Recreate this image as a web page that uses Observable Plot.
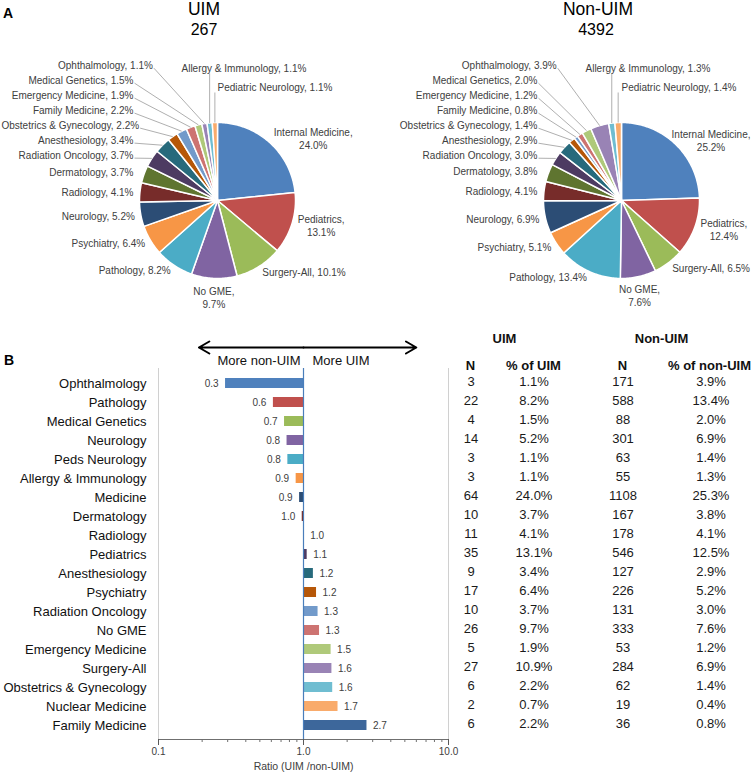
<!DOCTYPE html>
<html>
<head>
<meta charset="utf-8">
<script src="https://cdn.jsdelivr.net/npm/d3@7"></script>
<script src="https://cdn.jsdelivr.net/npm/@observablehq/plot@0.6"></script>
<style>
  body { margin: 0; background: #fff; font-family: 'Liberation Sans', Arial, sans-serif; }
  #root { position: relative; width: 752px; height: 772px; overflow: hidden; background: #fff; }
  .t { position: absolute; line-height: 1; white-space: nowrap; color: #000; }
  svg { overflow: visible; }
</style>
</head>
<body>
<div id="root"></div>
<script>
// ---------- DATA ----------
const pieNames = ["Internal Medicine","Pediatrics","Surgery-All","No GME","Pathology","Psychiatry","Neurology","Radiology","Dermatology","Radiation Oncology","Anesthesiology","Obstetrics & Gynecology","Family Medicine","Emergency Medicine","Medical Genetics","Ophthalmology","Allergy & Immunology","Pediatric Neurology"];
const uimPie = [24.0,13.1,10.1,9.7,8.2,6.4,5.2,4.1,3.7,3.7,3.4,2.2,2.2,1.9,1.5,1.1,1.1,1.1];
const nonPie = [25.2,12.4,6.5,7.6,13.4,5.1,6.9,4.1,3.8,3.0,2.9,1.4,0.8,1.2,2.0,3.9,1.3,1.4];
const pieColors = ["#4F81BD","#C0504D","#9BBB59","#8064A2","#4BACC6","#F79646","#2C4D75","#772C2A","#5F7530","#4D3B62","#276A7C","#B65708","#729ACA","#CD7371","#AFC97A","#9983B5","#6FBDD1","#F9AB6B"];
const wrapNames = ["Internal Medicine","Pediatrics","No GME"];

const uimTitle = "UIM", uimTotal = "267";
const nonTitle = "Non-UIM", nonTotal = "4392";

const barNames = ["Ophthalmology","Pathology","Medical Genetics","Neurology","Peds Neurology","Allergy & Immunology","Medicine","Dermatology","Radiology","Pediatrics","Anesthesiology","Psychiatry","Radiation Oncology","No GME","Emergency Medicine","Surgery-All","Obstetrics & Gynecology","Nuclear Medicine","Family Medicine"];
const ratios = [0.29,0.62,0.74,0.77,0.78,0.89,0.94,0.98,1.01,1.06,1.17,1.23,1.26,1.29,1.55,1.57,1.59,1.73,2.74];
const ratioLabels = ["0.3","0.6","0.7","0.8","0.8","0.9","0.9","1.0","1.0","1.1","1.2","1.2","1.3","1.3","1.5","1.6","1.6","1.7","2.7"];
const barColors = ["#4F81BD","#C0504D","#9BBB59","#8064A2","#4BACC6","#F79646","#2C4D75","#772C2A","#5F7530","#4D3B62","#276A7C","#B65708","#729ACA","#CD7371","#AFC97A","#9983B5","#6FBDD1","#F9AB6B","#3D679B"];
const uimN = [3,22,4,14,3,3,64,10,11,35,9,17,10,26,5,27,6,2,6];
const uimPct = ["1.1%","8.2%","1.5%","5.2%","1.1%","1.1%","24.0%","3.7%","4.1%","13.1%","3.4%","6.4%","3.7%","9.7%","1.9%","10.9%","2.2%","0.7%","2.2%"];
const nonN = [171,588,88,301,63,55,1108,167,178,546,127,226,131,333,53,284,62,19,36];
const nonPct = ["3.9%","13.4%","2.0%","6.9%","1.4%","1.3%","25.3%","3.8%","4.1%","12.5%","2.9%","5.2%","3.0%","7.6%","1.2%","6.9%","1.4%","0.4%","0.8%"];
const xTicks = [0.1, 1, 10];
const arrowEnds = [0.19, 6.0];
const axisTitle = "Ratio (UIM /non-UIM)";

// ---------- HELPERS ----------
const FONT = "'Liberation Sans', Arial, sans-serif";
const root = document.getElementById("root");
function place(el, left, top) {
  el.style.position = "absolute";
  el.style.left = left + "px";
  el.style.top = top + "px";
  root.appendChild(el);
}
function txt(s, left, top, size, weight, width, align) {
  const d = document.createElement("div");
  d.className = "t";
  d.textContent = s;
  d.style.fontSize = size + "px";
  d.style.fontWeight = weight || "normal";
  if (width) { d.style.width = width + "px"; d.style.textAlign = align || "center"; }
  place(d, left, top);
}
const ctx = document.createElement("canvas").getContext("2d");
ctx.font = "10px 'Liberation Sans', Arial, sans-serif";
const measure = s => ctx.measureText(s).width;

// ---------- PIE ----------
function piePlot(values, cx, cy, W, H) {
  const R = 78;
  const polar = (r, a) => [r * Math.sin(a), -r * Math.cos(a)];
  const arcs = d3.pie().sort(null).value(d => d)(values);
  const pts = [], labels = [], leaders = [];
  arcs.forEach((a, i) => {
    const name = pieNames[i], color = pieColors[i];
    const n = Math.max(2, Math.ceil((a.endAngle - a.startAngle) / (Math.PI / 180)));
    pts.push({name, color, x: 0, y: 0});
    for (let k = 0; k <= n; k++) {
      const ang = a.startAngle + (a.endAngle - a.startAngle) * k / n;
      const [x, y] = polar(R, ang);
      pts.push({name, color, x, y});
    }
    pts.push({name, color, x: 0, y: 0});
  });
  const items = arcs.map((a, i) => {
    const mid = (a.startAngle + a.endAngle) / 2;
    const v = values[i].toFixed(1) + "%";
    const text = wrapNames.includes(pieNames[i]) ? `${pieNames[i]},\n${v}` : `${pieNames[i]}, ${v}`;
    const lines = text.split("\n");
    return {mid, deg: mid * 180 / Math.PI, text, w: Math.max(...lines.map(measure)), h: lines.length * 13};
  });
  const clampX = (x, w) => Math.max(-cx + 1 + w / 2, Math.min(W - cx - 2 - w / 2, x));
  let prevY = Infinity;
  const tops = [];
  items.forEach(it => {
    const [px, py] = polar(R + 6, it.mid);
    const s = Math.sin(it.mid), c = Math.cos(it.mid);
    if (it.deg < 270) {
      const x = s > 0.3 ? px + it.w / 2 : s < -0.3 ? px - it.w / 2 : px;
      const y = Math.abs(s) >= 0.3 ? py : (c < 0 ? py + it.h / 2 : py - it.h / 2);
      labels.push({x: clampX(x, it.w), y, text: it.text});
    } else if (it.deg < 352) {
      const y = Math.min(py, prevY - 15);
      prevY = y;
      const xr = -Math.min(R + 6, Math.sqrt(Math.max(0, 150 * 150 - y * y)));
      const x = clampX(xr - it.w / 2, it.w);
      labels.push({x, y, text: it.text});
      const xe = x + it.w / 2;
      if (Math.hypot(xe - px, y - py) > 6) {
        const [rx, ry] = polar(R, it.mid);
        leaders.push({x1: xe + 1, y1: y + 3, x2: rx, y2: ry});
      }
    } else {
      tops.push(it);
    }
  });
  tops.reverse().forEach((it, k) => {
    const y = -(R + 36 + 19 * k);
    const xl = -36 * k;
    labels.push({x: clampX(xl + it.w / 2, it.w), y, text: it.text});
    const [rx, ry] = polar(R, it.mid);
    leaders.push({x1: rx, y1: y + 6, x2: rx, y2: ry});
  });
  return Plot.plot({
    width: W, height: H, margin: 0,
    x: {axis: null, domain: [-cx, W - cx], range: [0, W]},
    y: {axis: null, domain: [-cy, H - cy], range: [0, H]},
    color: {type: "identity"},
    style: {fontFamily: FONT, background: "transparent", overflow: "visible"},
    marks: [
      Plot.line(pts, {x: "x", y: "y", z: "name", fill: "color", stroke: "white", strokeWidth: 1.5, strokeLinejoin: "round"}),
      Plot.link(leaders, {x1: "x1", y1: "y1", x2: "x2", y2: "y2", stroke: "#a6a6a6", strokeWidth: 0.9}),
      Plot.text(labels, {x: "x", y: "y", text: "text", textAnchor: "middle", fontSize: 10, lineHeight: 1.3, fill: "#404040"})
    ]
  });
}

place(piePlot(uimPie, 217, 160, 376, 280), 0, 40);
place(piePlot(nonPie, 245, 160, 376, 280), 376, 40);

// ---------- BAR CHART ----------
const barRows = barNames.map((name, i) => ({name, ratio: ratios[i], label: ratioLabels[i], color: barColors[i]}));
const minorTicks = d3.scaleLog().domain([0.1, 10]).ticks();
const first = barNames[0];
const yScale = {type: "band", domain: barNames, padding: 0.5, range: [43.2, 423.8]};

const barPlot = Plot.plot({
  width: 452, height: 452,
  marginLeft: 158, marginRight: 4, marginTop: 48, marginBottom: 33,
  style: {fontFamily: FONT, background: "transparent", overflow: "visible"},
  x: {type: "log", domain: [0.1, 10]},
  y: yScale,
  color: {type: "identity"},
  marks: [
    Plot.ruleX([0.1, 10], {stroke: "#d0d0d0"}),
    Plot.frame({anchor: "bottom", stroke: "#6f6f6f"}),
    Plot.axisX({ticks: minorTicks, tickSize: 3, tickFormat: () => "", label: null, stroke: "#6f6f6f"}),
    Plot.axisX({ticks: xTicks, tickSize: 6, tickPadding: 2, tickFormat: d => d.toFixed(1), fontSize: 10, fill: "#404040", stroke: "#595959", label: null}),
    Plot.axisY({tickSize: 0, tickPadding: 12, fontSize: 13, fill: "#111", label: null}),
    Plot.barX(barRows, {x1: () => 1, x2: "ratio", y: "name", fill: "color"}),
    Plot.ruleX([1], {stroke: "#4a7ebb", strokeWidth: 1.2}),
    Plot.text(barRows.filter(d => d.ratio < 1), {x: "ratio", y: "name", text: "label", textAnchor: "end", dx: -7, fontSize: 10, fill: "#404040"}),
    Plot.text(barRows.filter(d => d.ratio >= 1), {x: "ratio", y: "name", text: "label", textAnchor: "start", dx: 6, fontSize: 10, fill: "#404040"}),
    Plot.arrow(arrowEnds, {x1: () => 1, x2: d => d, y1: () => first, y2: () => first, dy: -36, stroke: "black", strokeWidth: 2, headLength: 9}),
    Plot.text(["More non-UIM"], {x: () => 1, y: () => first, text: d => d, textAnchor: "end", dx: -3, dy: -23, fontSize: 13, fill: "#111"}),
    Plot.text(["More UIM"], {x: () => 1, y: () => first, text: d => d, textAnchor: "start", dx: 9, dy: -23, fontSize: 13, fill: "#111"}),
    Plot.text([axisTitle], {frameAnchor: "bottom", text: d => d, lineAnchor: "middle", dy: 27, fontSize: 10.5, fill: "#404040"})
  ]
});
place(barPlot, 0, 320);

// ---------- TABLE ----------
const tableRows = barNames.map((name, i) => ({name, uN: String(uimN[i]), uP: uimPct[i], nN: String(nonN[i]), nP: nonPct[i]}));
const cols = [{key: "uN", dx: 18.5}, {key: "uP", dx: 81.5}, {key: "nN", dx: 170.5}, {key: "nP", dx: 258.5}];
const heads = [
  {t: "UIM", dx: 52, dy: -45}, {t: "Non-UIM", dx: 209, dy: -45},
  {t: "N", dx: 18, dy: -18}, {t: "% of UIM", dx: 81, dy: -18},
  {t: "N", dx: 170, dy: -18}, {t: "% of non-UIM", dx: 257, dy: -18}
];
const tablePlot = Plot.plot({
  width: 300, height: 452,
  marginLeft: 0, marginRight: 0, marginTop: 48, marginBottom: 33,
  style: {fontFamily: FONT, background: "transparent", overflow: "visible"},
  y: {...yScale, axis: null},
  marks: [
    ...cols.map(c => Plot.text(tableRows, {y: "name", text: c.key, frameAnchor: "left", textAnchor: "middle", dx: c.dx, dy: -1.5, fontSize: 13, fill: "#1a1a1a"})),
    ...heads.map(h => Plot.text([h.t], {y: () => first, text: d => d, frameAnchor: "left", textAnchor: "middle", dx: h.dx, dy: h.dy, fontSize: 13, fontWeight: "bold", fill: "#111"}))
  ]
});
place(tablePlot, 452, 320);

// ---------- TITLES ----------
txt("A", 3, 6, 14, "bold");
txt("B", 4, 353, 14, "bold");
txt(uimTitle, 104, 1.2, 17.5, "normal", 200);
txt(uimTotal, 104, 21.5, 16, "normal", 200);
txt(nonTitle, 498, 1.2, 17.5, "normal", 200);
txt(nonTotal, 496, 21.5, 16, "normal", 200);
</script>
</body>
</html>
